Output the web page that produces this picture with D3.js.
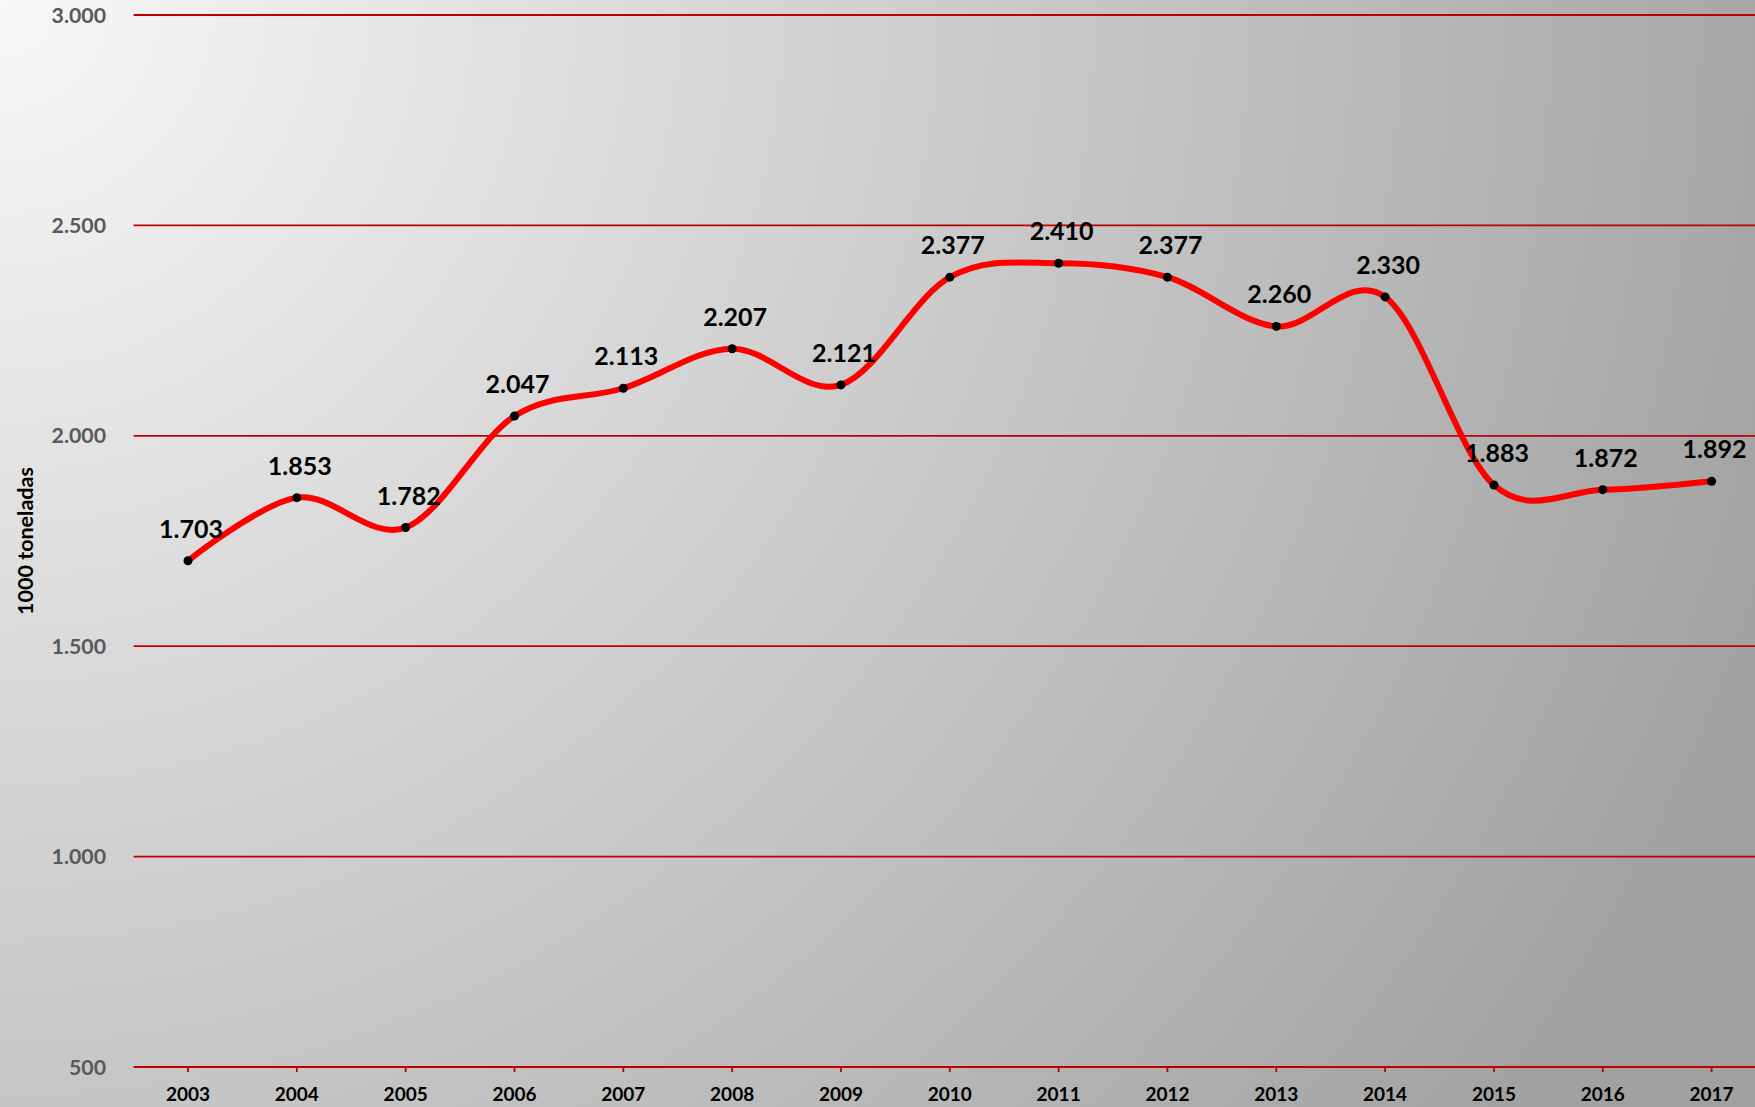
<!DOCTYPE html>
<html>
<head>
<meta charset="utf-8">
<script src="https://cdn.jsdelivr.net/npm/d3@7"></script>
<style>
  html, body { margin: 0; padding: 0; overflow: hidden; }
  svg { display: block; font-family: Lato, "Open Sans", sans-serif; }
</style>
</head>
<body>
<div id="chart"></div>
<script>

  var years = ["2003", "2004", "2005", "2006", "2007", "2008", "2009", "2010",
               "2011", "2012", "2013", "2014", "2015", "2016", "2017"];
  var tons = [1703, 1853, 1782, 2047, 2113, 2207, 2121, 2377,
              2410, 2377, 2260, 2330, 1883, 1872, 1892];
  var yTicks = [500, 1000, 1500, 2000, 2500, 3000];
  var yTitle = "1000 toneladas";

  var width = 1755,
      height = 1107;

  var fmt = function(v) { return d3.format(",")(v).replace(/,/g, "."); };

  var svg = d3.select("#chart")
    .append("svg")
    .attr("width", width)
    .attr("height", height);

  // background gradient (light top-left to grey right)
  var defs = svg.append("defs");
  var grad = defs.append("radialGradient")
    .attr("id", "bg")
    .attr("gradientUnits", "userSpaceOnUse")
    .attr("cx", 0).attr("cy", 0).attr("r", 1880);
  grad.append("stop").attr("offset", "0").attr("stop-color", "#f8f8f8");
  grad.append("stop").attr("offset", "0.5").attr("stop-color", "#cdcdcd");
  grad.append("stop").attr("offset", "0.72").attr("stop-color", "#bababa");
  grad.append("stop").attr("offset", "1").attr("stop-color", "#a1a1a1");

  svg.append("rect")
    .attr("width", width)
    .attr("height", height)
    .attr("fill", "url(#bg)");

  //=========================================================================
  // Scales
  //=========================================================================
  var plotLeft = 133.6, plotRight = 1766, plotTop = 15, plotBottom = 1067;

  var x = d3.scalePoint()
    .domain(years)
    .range([plotLeft, plotRight])
    .padding(0.5);

  var y = d3.scaleLinear()
    .domain([500, 3000])
    .range([plotBottom, plotTop]);

  // gridlines
  svg.append("g")
    .selectAll("line")
    .data(yTicks)
    .enter()
    .append("line")
    .attr("x1", plotLeft)
    .attr("x2", width)
    .attr("y1", function(d) { return y(d); })
    .attr("y2", function(d) { return y(d); })
    .attr("stroke", "#c00000")
    .attr("stroke-width", 1.8);

  // y labels
  svg.append("g")
    .selectAll("text")
    .data(yTicks)
    .enter()
    .append("text")
    .attr("x", 106)
    .attr("y", function(d) { return y(d) + 7.5; })
    .attr("text-anchor", "end")
    .attr("font-size", 21.3)
    .attr("font-weight", "bold")
    .attr("fill", "#595959")
    .text(fmt);

  // x axis ticks + labels
  var xAxis = svg.append("g");
  xAxis.selectAll("line")
    .data(years)
    .enter()
    .append("line")
    .attr("x1", function(d) { return x(d); })
    .attr("x2", function(d) { return x(d); })
    .attr("y1", plotBottom)
    .attr("y2", plotBottom + 5)
    .attr("stroke", "#c00000")
    .attr("stroke-width", 1.8);

  xAxis.selectAll("text")
    .data(years)
    .enter()
    .append("text")
    .attr("x", function(d) { return x(d); })
    .attr("y", 1101)
    .attr("text-anchor", "middle")
    .attr("font-size", 19)
    .attr("font-weight", "bold")
    .attr("fill", "#000")
    .text(function(d) { return d; });

  // y title
  svg.append("text")
    .attr("transform", "translate(33," + ((plotTop + plotBottom) / 2) + ") rotate(-90)")
    .attr("text-anchor", "middle")
    .attr("font-size", 21.5)
    .attr("font-weight", "bold")
    .attr("fill", "#000")
    .text(yTitle);

  //=========================================================================
  // Line
  //=========================================================================
  var line = d3.line()
    .x(function(d, i) { return x(years[i]); })
    .y(function(d) { return y(d); })
    .curve(d3.curveCardinal.tension(0));

  svg.append("path")
    .datum(tons)
    .attr("d", line)
    .attr("fill", "none")
    .attr("stroke", "#ff0000")
    .attr("stroke-width", 6)
    .attr("stroke-linejoin", "round");

  svg.append("g")
    .selectAll("circle")
    .data(tons)
    .enter()
    .append("circle")
    .attr("cx", function(d, i) { return x(years[i]); })
    .attr("cy", function(d) { return y(d); })
    .attr("r", 4.5)
    .attr("fill", "#000");

  svg.append("g")
    .selectAll("text")
    .data(tons)
    .enter()
    .append("text")
    .attr("x", function(d, i) { return x(years[i]) + 3; })
    .attr("y", function(d) { return y(d) - 23; })
    .attr("text-anchor", "middle")
    .attr("font-size", 25)
    .attr("font-weight", "bold")
    .attr("fill", "#000")
    .text(fmt);

</script>
</body>
</html>
